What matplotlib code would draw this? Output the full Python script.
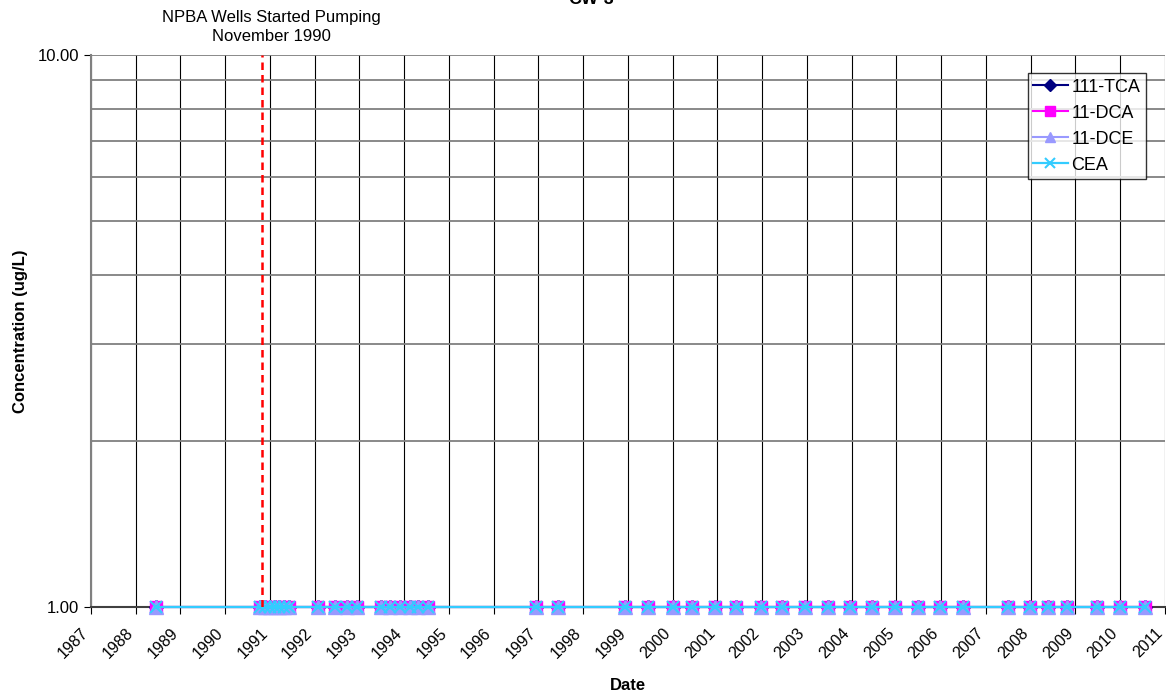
import matplotlib
matplotlib.use('Agg')
import matplotlib.pyplot as plt
from matplotlib.ticker import LogLocator, FixedLocator, NullFormatter, FuncFormatter
from matplotlib.transforms import ScaledTranslation
import pandas as pd

plt.rcParams['font.family'] = ['Liberation Sans', 'DejaVu Sans']

# sample dates (all results reported at the 1.00 ug/L reporting limit)
dates = ['1988-06-15',
         '1990-10-15', '1990-11-25', '1991-01-05', '1991-02-10', '1991-03-20',
         '1991-04-25', '1991-06-05',
         '1992-02-01', '1992-06-15', '1992-09-25', '1992-12-15',
         '1993-06-25', '1993-09-05', '1993-11-25', '1994-02-15', '1994-04-20',
         '1994-07-12',
         '1996-12-10', '1997-06-10', '1998-12-05', '1999-06-15', '2000-01-01',
         '2000-06-05', '2000-12-10', '2001-06-05', '2001-12-20', '2002-06-15',
         '2002-12-15', '2003-06-20', '2003-12-15', '2004-06-15', '2004-12-20',
         '2005-06-25', '2005-12-20', '2006-06-28', '2007-06-28', '2007-12-25',
         '2008-05-20', '2008-10-22', '2009-06-25', '2009-12-28', '2010-07-20']
dates = pd.to_datetime(dates)

tca_111 = [1.0] * len(dates)
dca_11 = [1.0] * len(dates)
dce_11 = [1.0] * len(dates)
cea = [1.0] * len(dates)

pump_start = pd.Timestamp('1990-11-01')
years = list(range(1987, 2012))

fig = plt.figure(figsize=(11.66, 6.94), dpi=100)
ax = fig.add_axes([0.078, 0.1254, 0.921, 0.7953])

ax.plot(dates, tca_111, color='#000080', marker='D', markersize=7.5, lw=1.5, label='111-TCA',
        zorder=3, clip_on=False)
ax.plot(dates, dca_11, color='#FF00FF', marker='s', markersize=9, lw=1.5, label='11-DCA',
        zorder=4, clip_on=False)
ax.plot(dates, dce_11, color='#9999FF', marker='^', markersize=9.5, lw=1.5, label='11-DCE',
        zorder=5, clip_on=False)
ax.plot(dates, cea, color='#33CCFF', marker='x', markersize=9, mew=1.5, lw=1.6, label='CEA',
        zorder=6, clip_on=False)

ax.axvline(pump_start, color='#FF0000', ls=(0, (3, 2)), lw=1.8, zorder=7)
ax.text(pd.Timestamp('1991-01-15'), 10.45, 'NPBA Wells Started Pumping\nNovember 1990',
        ha='center', va='bottom', fontsize=12, linespacing=1.4, clip_on=False)

ax.set_yscale('log')
ax.set_ylim(1, 10)
ax.yaxis.set_major_locator(FixedLocator([1, 10]))
ax.yaxis.set_major_formatter(FuncFormatter(lambda v, p: '%.2f' % v))
ax.yaxis.set_minor_locator(LogLocator(base=10, subs=range(2, 10)))
ax.yaxis.set_minor_formatter(NullFormatter())
ax.tick_params(axis='y', which='minor', length=0)
ax.tick_params(axis='y', which='major', length=5, labelsize=12)

ax.set_xlim(pd.Timestamp('1987-01-01'), pd.Timestamp('2011-01-01'))
ax.set_xticks([pd.Timestamp('%d-01-01' % y) for y in years])
ax.set_xticklabels([str(y) for y in years], rotation=45, ha='right', rotation_mode='anchor', fontsize=11.5)
ax.tick_params(axis='x', length=5, pad=4)
shift = ScaledTranslation(-0.1, -0.06, fig.dpi_scale_trans)
for lab in ax.get_xticklabels():
    lab.set_transform(lab.get_transform() + shift)

ax.grid(True, axis='x', color='black', lw=0.8)
ax.grid(True, axis='y', which='both', color='#808080', lw=1.3)

for s in ['top', 'right']:
    ax.spines[s].set_visible(False)
ax.spines['left'].set_color('#808080')
ax.spines['left'].set_linewidth(1.5)
ax.spines['bottom'].set_color('#404040')
ax.spines['bottom'].set_linewidth(1.5)

ax.set_xlabel('Date', fontsize=12, fontweight='bold', labelpad=12)
ax.set_ylabel('Concentration (ug/L)', fontsize=12, fontweight='bold', labelpad=7)

fig.text(0.507, 1.0, 'CW-3', ha='center', va='center', fontsize=13, fontweight='bold')

leg = ax.legend(loc='upper right', bbox_to_anchor=(0.982, 0.967), fontsize=13, frameon=True,
                fancybox=False, borderpad=0.3, labelspacing=0.5, handlelength=1.9,
                handletextpad=0.2, borderaxespad=0, markerscale=0.8)
leg.get_frame().set_edgecolor('black')
leg.get_frame().set_linewidth(1)

fig.savefig('out.png', dpi=100)
